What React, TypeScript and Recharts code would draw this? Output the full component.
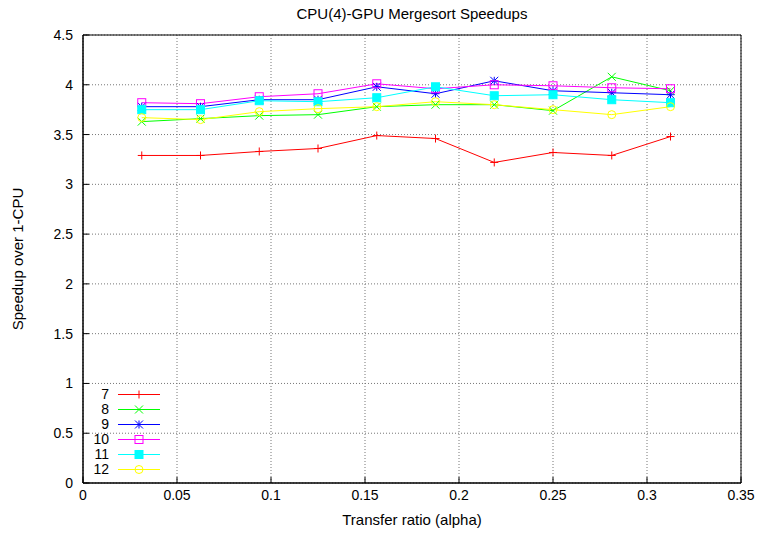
import React from 'react';
import {
  LineChart,
  Line,
  XAxis,
  YAxis,
  CartesianGrid,
  ReferenceArea,
} from 'recharts';

const alpha = [0.03125, 0.0625, 0.09375, 0.125, 0.15625, 0.1875, 0.21875, 0.25, 0.28125, 0.3125];

const s7 = [3.29, 3.29, 3.33, 3.36, 3.49, 3.46, 3.22, 3.32, 3.29, 3.48];
const s8 = [3.63, 3.66, 3.69, 3.70, 3.78, 3.80, 3.80, 3.74, 4.08, 3.94];
const s9 = [3.78, 3.78, 3.85, 3.85, 3.98, 3.91, 4.04, 3.94, 3.92, 3.90];
const s10 = [3.82, 3.81, 3.88, 3.91, 4.01, 3.96, 4.00, 3.99, 3.97, 3.96];
const s11 = [3.75, 3.75, 3.84, 3.83, 3.87, 3.98, 3.89, 3.90, 3.85, 3.82];
const s12 = [3.67, 3.65, 3.73, 3.76, 3.78, 3.83, 3.80, 3.75, 3.70, 3.78];

const xTicks = [0, 0.05, 0.1, 0.15, 0.2, 0.25, 0.3, 0.35];
const yTicks = [0, 0.5, 1, 1.5, 2, 2.5, 3, 3.5, 4, 4.5];

const FONT = '"Liberation Sans", Arial, sans-serif';

type Marker = 'plus' | 'cross' | 'star' | 'square' | 'fsquare' | 'circle';

const seriesList: { name: string; key: string; color: string; marker: Marker; values: number[] }[] = [
  { name: '7', key: 's7', color: '#ff0000', marker: 'plus', values: s7 },
  { name: '8', key: 's8', color: '#00ff00', marker: 'cross', values: s8 },
  { name: '9', key: 's9', color: '#0000ff', marker: 'star', values: s9 },
  { name: '10', key: 's10', color: '#ff00ff', marker: 'square', values: s10 },
  { name: '11', key: 's11', color: '#00ffff', marker: 'fsquare', values: s11 },
  { name: '12', key: 's12', color: '#ffff00', marker: 'circle', values: s12 },
];

const data = alpha.map((a, i) => {
  const row: any = { alpha: a };
  seriesList.forEach((s) => {
    row[s.key] = s.values[i];
  });
  return row;
});

// gnuplot-ish point types
const markerShape = (kind: Marker, cx: number, cy: number, color: string, key?: string) => {
  const r = 4;
  switch (kind) {
    case 'plus':
      return (
        <g key={key}>
          <line x1={cx - r} y1={cy} x2={cx + r} y2={cy} stroke={color} />
          <line x1={cx} y1={cy - r} x2={cx} y2={cy + r} stroke={color} />
        </g>
      );
    case 'cross':
      return (
        <g key={key}>
          <line x1={cx - r} y1={cy - r} x2={cx + r} y2={cy + r} stroke={color} />
          <line x1={cx - r} y1={cy + r} x2={cx + r} y2={cy - r} stroke={color} />
        </g>
      );
    case 'star':
      return (
        <g key={key}>
          <line x1={cx - r} y1={cy} x2={cx + r} y2={cy} stroke={color} />
          <line x1={cx} y1={cy - r} x2={cx} y2={cy + r} stroke={color} />
          <line x1={cx - r} y1={cy - r} x2={cx + r} y2={cy + r} stroke={color} />
          <line x1={cx - r} y1={cy + r} x2={cx + r} y2={cy - r} stroke={color} />
        </g>
      );
    case 'square':
      return <rect key={key} x={cx - r} y={cy - r} width={2 * r} height={2 * r} fill="none" stroke={color} />;
    case 'fsquare':
      return <rect key={key} x={cx - r} y={cy - r} width={2 * r} height={2 * r} fill={color} stroke={color} />;
    case 'circle':
    default:
      return <circle key={key} cx={cx} cy={cy} r={r} fill="none" stroke={color} />;
  }
};

const makeDot = (kind: Marker, color: string) => (props: any) => {
  const { cx, cy, index } = props;
  if (cx == null || cy == null) return <g key={index} />;
  return markerShape(kind, cx, cy, color, `dot-${index}`);
};

const fmtX = (v: number) => String(v);

export default function App() {
  return (
    <div style={{ position: 'absolute', left: 0, top: 0, width: 759, height: 533, background: '#fff', fontFamily: FONT }}>
      <LineChart
        width={759}
        height={533}
        data={data}
        margin={{ top: 35, right: 18, left: 0, bottom: 0 }}
      >
        <CartesianGrid
          stroke="#777"
          strokeDasharray="1 2"
          horizontalValues={yTicks}
          verticalValues={xTicks}
        />
        <XAxis
          dataKey="alpha"
          type="number"
          domain={[0, 0.35]}
          ticks={xTicks}
          tickFormatter={fmtX}
          height={50}
          tickSize={-6}
          tickMargin={13}
          stroke="#000"
          tick={{ fill: '#000', fontSize: 14, fontFamily: FONT }}
          allowDataOverflow
        />
        <XAxis
          xAxisId="top"
          orientation="top"
          type="number"
          domain={[0, 0.35]}
          ticks={xTicks}
          tickFormatter={() => ''}
          height={0}
          tickSize={-6}
          stroke="#000"
        />
        <YAxis
          type="number"
          domain={[0, 4.5]}
          ticks={yTicks}
          width={83}
          tickSize={-6}
          tickMargin={16}
          stroke="#000"
          tick={{ fill: '#000', fontSize: 14, fontFamily: FONT }}
          allowDataOverflow
        />
        <YAxis
          yAxisId="right"
          orientation="right"
          type="number"
          domain={[0, 4.5]}
          ticks={yTicks}
          tickFormatter={() => ''}
          width={0}
          tickSize={-6}
          stroke="#000"
        />
        <ReferenceArea x1={0} x2={0.35} y1={0} y2={4.5} fill="none" stroke="#000" strokeWidth={1} />
        {seriesList.map((s) => (
          <Line
            key={s.key}
            dataKey={s.key}
            name={s.name}
            stroke={s.color}
            strokeWidth={1}
            dot={makeDot(s.marker, s.color)}
            activeDot={false}
            isAnimationActive={false}
          />
        ))}
      </LineChart>

      <div style={{ position: 'absolute', left: 83, width: 658, top: 5, textAlign: 'center', fontSize: 15, lineHeight: '18px' }}>
        CPU(4)-GPU Mergesort Speedups
      </div>
      <div style={{ position: 'absolute', left: 83, width: 658, top: 511, textAlign: 'center', fontSize: 15, lineHeight: '18px' }}>
        Transfer ratio (alpha)
      </div>
      <div
        style={{
          position: 'absolute',
          left: 18,
          top: 259,
          fontSize: 15,
          lineHeight: '18px',
          whiteSpace: 'nowrap',
          transform: 'translate(-50%, -50%) rotate(-90deg)',
        }}
      >
        Speedup over 1-CPU
      </div>

      {/* key box, bottom left like gnuplot */}
      <svg style={{ position: 'absolute', left: 0, top: 0 }} width={759} height={533}>
        {seriesList.map((s, i) => {
          const y = 394.5 + i * 15;
          return (
            <g key={s.key}>
              <text x={109} y={y} dy="0.35em" textAnchor="end" fontSize={14} fontFamily={FONT} fill="#000">
                {s.name}
              </text>
              <line x1={118} y1={y} x2={160} y2={y} stroke={s.color} />
              {markerShape(s.marker, 139, y, s.color)}
            </g>
          );
        })}
      </svg>
    </div>
  );
}
